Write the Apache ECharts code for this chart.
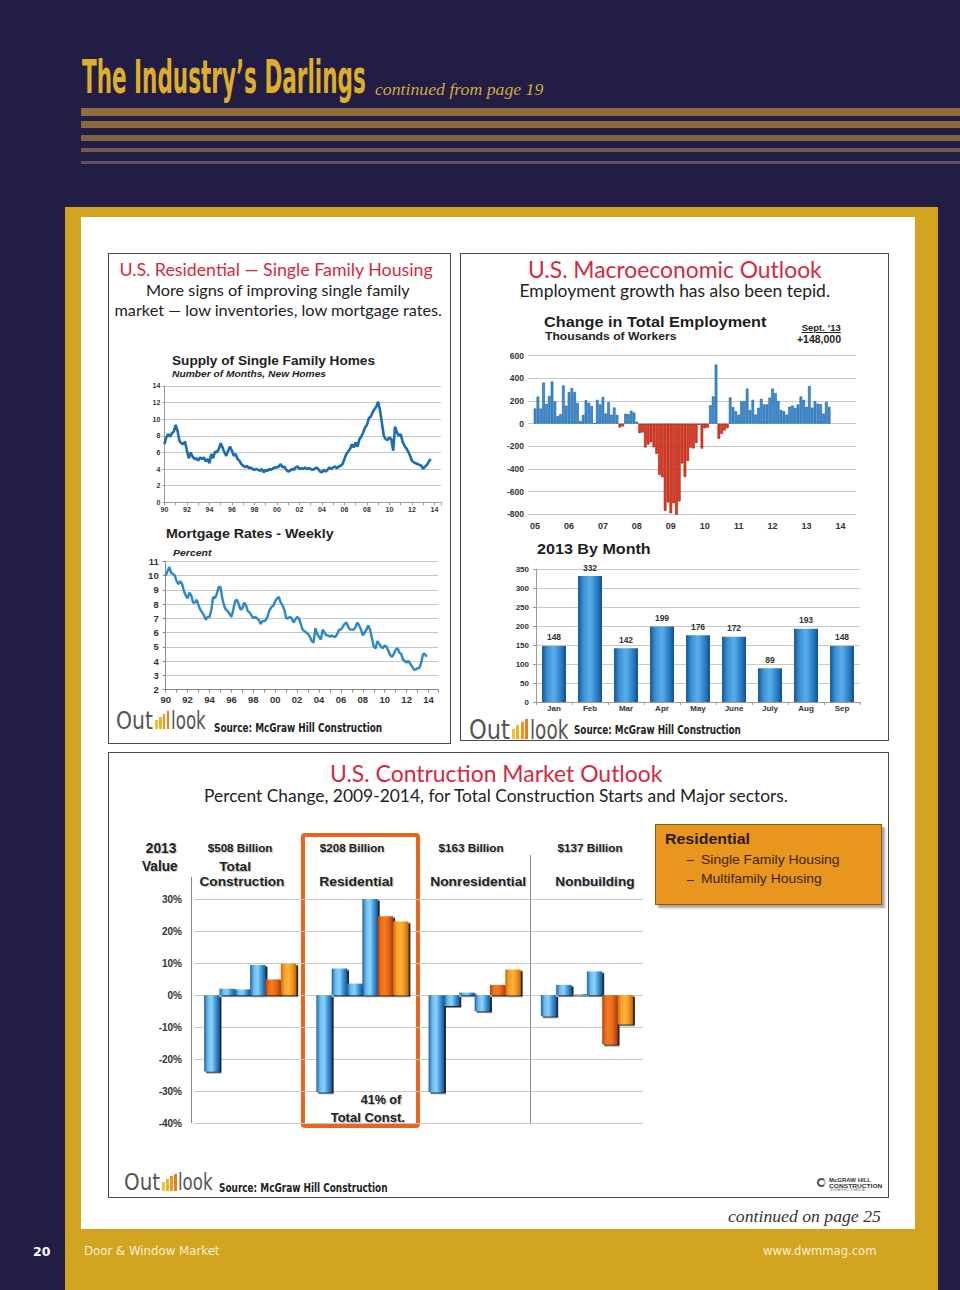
<!DOCTYPE html>
<html><head><meta charset="utf-8">
<script src="https://cdn.jsdelivr.net/npm/echarts@6/dist/echarts.min.js"></script>
<style>
body{margin:0;background:#221d45}
#page{position:relative;width:960px;height:1290px;overflow:hidden;background:#221d45}
.a{position:absolute}
.t{position:absolute;white-space:nowrap;line-height:1;z-index:3}
#chart{position:absolute;left:0;top:0;width:960px;height:1290px;z-index:2}
</style></head>
<body><div id="page">
<div class="a" style="left:81px;top:108px;width:879px;height:8px;background:#8e6c3c"></div>
<div class="a" style="left:81px;top:121px;width:879px;height:7px;background:#8a693a"></div>
<div class="a" style="left:81px;top:135px;width:879px;height:6px;background:#806440"></div>
<div class="a" style="left:81px;top:148px;width:879px;height:4px;background:#705b55"></div>
<div class="a" style="left:81px;top:161px;width:879px;height:2.5px;background:#5c4f63"></div>
<div class="a" style="left:65px;top:207px;width:873px;height:1083px;background:#d2a420"></div>
<div class="a" style="left:81px;top:217px;width:834px;height:1012px;background:#ffffff"></div>
<div class="a" style="left:108px;top:253px;width:343px;height:491px;border:1.5px solid #4a4a4a;box-sizing:border-box"></div>
<div class="a" style="left:460px;top:253px;width:429px;height:488px;border:1.5px solid #4a4a4a;box-sizing:border-box"></div>
<div class="a" style="left:108px;top:752px;width:781px;height:446px;border:1.5px solid #4a4a4a;box-sizing:border-box"></div>
<div class="a" style="left:301px;top:833px;width:119px;height:295px;border:4px solid #e8651c;border-radius:4px;box-sizing:border-box"></div>
<div class="a" style="left:655px;top:824px;width:227px;height:81px;background:#e9961f;border:1px solid #8a5a14;box-sizing:border-box;box-shadow:3px 3px 2px rgba(0,0,0,0.35)"></div>
<div class="a" style="left:190.5px;top:877px;width:1.2px;height:246px;background:#8a8a8a"></div>
<div class="a" style="left:530px;top:855px;width:1.2px;height:268px;background:#8a8a8a"></div>
<div id="chart"></div>
</div>
<script>
// ---------------- DATA ----------------
// Supply of single family homes (months), every 2 months from Jan 1990 to Sep 2013
const supplyValues = [
 7.0,7.8,8.2,7.9,8.3,8.5,  9.3,8.6,7.4,7.1,7.0,7.3,  6.2,5.3,6.0,5.5,5.2,5.3,
 5.0,5.4,5.2,5.4,4.9,5.2,  4.7,5.8,5.3,6.1,6.0,6.4,  7.1,6.6,6.0,5.6,6.2,6.7,
 6.2,5.6,5.8,5.2,5.0,4.6,  4.4,4.2,4.4,4.1,4.2,4.0,  3.9,4.0,3.9,3.8,4.0,3.6,
 3.9,3.8,4.0,3.9,4.1,4.2,  4.2,4.3,4.6,4.2,4.3,3.9,  3.7,3.8,4.0,3.9,4.2,4.3,
 4.0,4.1,4.0,4.2,4.0,4.1,  4.0,3.9,4.0,4.2,4.0,3.7,  3.6,3.9,3.7,3.9,4.2,4.0,
 4.2,4.3,4.1,4.3,4.4,4.6,  5.2,5.8,6.1,6.4,7.0,6.6,  7.2,6.7,7.6,7.9,8.4,9.0,
 9.3,10.1,10.3,10.8,11.2,11.5,  12.1,11.0,9.5,8.0,7.6,7.5,  7.8,7.6,6.2,9.1,8.4,8.0,
 8.2,7.3,6.8,6.5,6.1,5.6,  5.0,4.8,4.7,4.6,4.5,4.4,  4.0,4.3,4.5,4.9,5.2
];
// 30-yr mortgage rate (%), every 2 months from Jan 1990 to Nov 2013
const mortgageValues = [
 10.0,10.3,10.6,10.2,10.1,10.0,  9.6,9.4,9.6,9.4,8.9,8.6,  8.4,8.8,8.6,8.1,8.1,8.3,
 7.9,7.6,7.4,7.2,6.9,7.1,  7.1,7.6,8.5,8.4,8.7,9.2,  9.2,8.4,7.9,7.6,7.5,7.3,
 7.1,7.6,8.2,8.3,8.0,7.6,  7.7,8.1,7.9,7.5,7.4,7.2,  7.0,7.1,7.0,6.9,6.6,6.8,
 6.8,6.9,7.2,7.6,7.8,7.9,  8.2,8.4,8.5,8.1,7.9,7.6,  7.0,7.0,7.1,7.0,6.7,6.9,
 7.1,7.0,6.6,6.2,6.1,6.0,  5.9,5.7,5.4,5.3,6.3,5.9,  5.7,5.5,6.2,6.0,5.8,5.8,
 5.7,5.8,5.7,5.7,5.9,6.2,  6.2,6.4,6.6,6.7,6.4,6.2,  6.2,6.2,6.4,6.7,6.5,6.2,
 5.8,6.0,6.2,6.5,6.2,5.6,  5.0,4.9,5.4,5.2,5.0,4.9,  5.1,5.0,4.7,4.4,4.3,4.5,
 4.8,4.9,4.6,4.5,4.1,4.0,  3.9,4.0,3.8,3.6,3.4,3.4,  3.5,3.5,3.9,4.5,4.5,4.3
];
// Change in total employment (thousands), monthly Jan 2005 - Sep 2013
const employmentValues = [
 134,239,134,363,175,245,373,196,67,84,337,159,
 277,315,280,182,23,77,207,184,157,2,210,171,
 236,90,189,79,143,78,-33,-24,88,84,114,98,
 17,-84,-78,-210,-185,-165,-209,-266,-452,-473,-769,-695,
 -791,-703,-823,-686,-351,-470,-329,-212,-219,-170,-10,-220,
 -40,-35,163,241,522,-133,-90,-60,-40,232,147,109,
 80,200,200,310,120,210,80,140,220,170,170,230,
 310,270,200,120,110,80,150,160,140,170,240,210,
 148,332,142,199,176,172,89,193,148
];
const months2013 = ['Jan','Feb','Mar','Apr','May','June','July','Aug','Sep'];
const jobs2013 = [148,332,142,199,176,172,89,193,148];
const sectors = ['Total Construction','Residential','Nonresidential','Nonbuilding'];
const years = ['2009','2010','2011','2012','2013','2014'];
const change2009 = [-23.8,-30.3,-30.3,-6.6];
const change2010 = [2.0,8.3,-3.4,3.2];
const change2011 = [1.8,3.6,0.8,0.3];
const change2012 = [9.4,30.4,-5.0,7.4];
const change2013 = [4.9,24.6,3.2,-15.4];
const change2014 = [9.8,23.0,8.0,-9.1];

// ---------------- TEXT ----------------
const page = document.getElementById('page');
const ARIAL = '"Liberation Sans", Arial, sans-serif';
const GILL = 'Lato, "Open Sans", sans-serif';
const SERIF = '"Liberation Serif", "DejaVu Serif", serif';
const NARROW = '"Liberation Sans Narrow", "DejaVu Sans Condensed", "Liberation Sans", sans-serif';
const VERD = '"DejaVu Sans", Verdana, sans-serif';
function txt(s, x, y, o) {
  o = o || {};
  const d = document.createElement('div');
  d.className = 't';
  d.textContent = s;
  const st = d.style;
  st.fontFamily = o.f || ARIAL;
  st.fontSize = (o.s || 12) + 'px';
  st.fontWeight = o.b ? 'bold' : 'normal';
  st.fontStyle = o.i ? 'italic' : 'normal';
  st.color = o.c || '#222';
  if (o.lh) st.lineHeight = o.lh;
  if (o.u) st.textDecoration = 'underline';
  if (o.sh) st.textShadow = o.sh;
  st.left = x + 'px'; st.top = y + 'px';
  page.appendChild(d);
  const W = d.offsetWidth, H = d.offsetHeight;
  const sc = o.w ? o.w / W : 1;
  const a = o.a || 'l';
  const off = a === 'l' ? 0 : a === 'c' ? -sc * W / 2 : -sc * W;
  st.transformOrigin = '0 0';
  st.transform = 'translate(' + off + 'px,' + (-H / 2) + 'px) scaleX(' + sc + ')';
  return d;
}
function logo(x, yc, T) {
  const fs = T * 0.27;
  txt('Out', x, yc, {f: VERD, s: fs, c: '#555', w: T * 0.41, lh: 0.66});
  const bx = x + T * 0.43, bw = T * 0.032, gap = T * 0.012;
  const cols = ['#f6c22a', '#f3ae22', '#ee951e', '#e97d1b'];
  for (let i = 0; i < 4; i++) {
    const h = fs * (0.38 + 0.12 * i);
    const b = document.createElement('div');
    b.className = 'a';
    b.style.cssText = 'left:' + (bx + i * (bw + gap)) + 'px;top:' + (yc + fs * 0.346 - h) + 'px;width:' + bw + 'px;height:' + h + 'px;background:' + cols[i] + ';z-index:3';
    page.appendChild(b);
  }
  txt('look', x + T * 0.61, yc, {f: VERD, s: fs, c: '#555', w: T * 0.39, lh: 0.66});
}
// header / footer
txt('The Industry\u2019s Darlings', 82, 77, {f: NARROW, s: 46, b: 1, c: '#dcae2b', w: 284});
txt('continued from page 19', 375, 89, {f: SERIF, s: 17, i: 1, c: '#d1aa3b', w: 168});
txt('20', 41.5, 1251.5, {f: VERD, s: 12.5, b: 1, c: '#ffffff', a: 'c'});
txt('Door & Window Market', 84, 1251.5, {f: VERD, s: 11.5, c: '#fbf1d4', w: 135});
txt('www.dwmmag.com', 877, 1251.5, {f: VERD, s: 11.5, c: '#fbf1d4', a: 'r', w: 114});
txt('continued on page 25', 880.5, 1215.5, {f: SERIF, s: 17, i: 1, c: '#333', a: 'r', w: 153});
// panel 1
txt('U.S. Residential \u2014 Single Family Housing', 276.3, 269.5, {f: GILL, s: 17.5, c: '#d22a3e', a: 'c', w: 313});
txt('More signs of improving single family', 277.8, 290, {f: GILL, s: 16, c: '#222', a: 'c', w: 264});
txt('market \u2014 low inventories, low mortgage rates.', 278.3, 310, {f: GILL, s: 16, c: '#222', a: 'c', w: 327});
txt('Supply of Single Family Homes', 171.8, 360.7, {s: 13.5, b: 1, c: '#1e1e1e', w: 203});
txt('Number of Months, New Homes', 172.4, 374, {s: 9.5, b: 1, i: 1, c: '#1e1e1e', w: 154});
txt('Mortgage Rates - Weekly', 165.7, 534, {s: 13.5, b: 1, c: '#1e1e1e', w: 168});
txt('Percent', 173.4, 552.6, {s: 9.5, b: 1, i: 1, c: '#1e1e1e', w: 38.6});
logo(116, 721, 90);
txt('Source: McGraw Hill Construction', 213.7, 728, {f: NARROW, s: 12, b: 1, c: '#222', w: 168});
// panel 2
txt('U.S. Macroeconomic Outlook', 675, 269, {f: GILL, s: 23, c: '#d22a3e', a: 'c', w: 294});
txt('Employment growth has also been tepid.', 674.5, 291, {f: GILL, s: 16.5, c: '#222', a: 'c', w: 311});
txt('Change in Total Employment', 544, 321.7, {s: 15.5, b: 1, c: '#1e1e1e', w: 222});
txt('Thousands of Workers', 545, 337.3, {s: 11.5, b: 1, c: '#1e1e1e', w: 131});
txt('Sept. \u201913', 801.7, 328.3, {s: 9.5, b: 1, c: '#1e1e1e', u: 1, w: 39});
txt('+148,000', 796.7, 340, {s: 10, b: 1, c: '#1e1e1e', w: 44});
txt('2013 By Month', 537.3, 549, {s: 15.5, b: 1, c: '#1e1e1e', w: 113.3});
logo(469.3, 729.5, 99);
txt('Source: McGraw Hill Construction', 574.3, 730, {f: NARROW, s: 12, b: 1, c: '#222', w: 166.7});
// panel 3
txt('U.S. Contruction Market Outlook', 495.7, 772.7, {f: GILL, s: 23, c: '#d22a3e', a: 'c', w: 332});
txt('Percent Change, 2009-2014, for Total Construction Starts and Major sectors.', 495.7, 794.8, {f: GILL, s: 17, c: '#222', a: 'c', w: 584});
const SH = '1px 1px 1px rgba(0,0,0,0.25)';
txt('2013', 160.5, 847.7, {s: 14, b: 1, c: '#222', a: 'c', w: 30.3, sh: SH});
txt('Value', 160, 865.7, {s: 14, b: 1, c: '#222', a: 'c', w: 36, sh: SH});
txt('$508 Billion', 239.7, 848.3, {s: 11, b: 1, c: '#222', a: 'c', w: 64.7, sh: SH});
txt('Total', 234.8, 865.7, {s: 13, b: 1, c: '#222', a: 'c', w: 31.7, sh: SH});
txt('Construction', 242.2, 881, {s: 13, b: 1, c: '#222', a: 'c', w: 85, sh: SH});
txt('$208 Billion', 351.8, 848.3, {s: 11, b: 1, c: '#222', a: 'c', w: 64.3, sh: SH});
txt('Residential', 355.5, 881, {s: 13, b: 1, c: '#222', a: 'c', w: 73.7, sh: SH});
txt('$163 Billion', 470.8, 848.3, {s: 11, b: 1, c: '#222', a: 'c', w: 65, sh: SH});
txt('Nonresidential', 477.8, 881, {s: 13, b: 1, c: '#222', a: 'c', w: 95.7, sh: SH});
txt('$137 Billion', 589.8, 848.3, {s: 11, b: 1, c: '#222', a: 'c', w: 65, sh: SH});
txt('Nonbuilding', 595.3, 881, {s: 13, b: 1, c: '#222', a: 'c', w: 79.3, sh: SH});
txt('41% of', 381, 1099, {s: 13, b: 1, c: '#222', a: 'c', w: 40.7, sh: SH});
txt('Total Const.', 367.7, 1116.7, {s: 13, b: 1, c: '#222', a: 'c', w: 74, sh: SH});
txt('Residential', 665, 837.7, {s: 15, b: 1, c: '#2a1a08', w: 85});
txt('\u2013', 686.7, 859, {s: 13, c: '#3a2408'});
txt('Single Family Housing', 701, 860, {s: 13.5, c: '#3a2408', w: 138.3});
txt('\u2013', 686.7, 879, {s: 13, c: '#3a2408'});
txt('Multifamily Housing', 701, 879.3, {s: 13.5, c: '#3a2408', w: 120.7});
logo(124.3, 1183, 88);
txt('Source: McGraw Hill Construction', 218.6, 1188, {f: NARROW, s: 12, b: 1, c: '#222', w: 168.4});
(function(){
  const c = document.createElement('div');
  c.className = 'a';
  c.style.cssText = 'left:817px;top:1178px;width:9px;height:9px;border-radius:50%;border:2px solid #555;border-right-color:#bbb;box-sizing:border-box;z-index:3';
  page.appendChild(c);
})();
txt('McGRAW HILL', 829, 1179.5, {s: 6, b: 1, c: '#333', w: 42});
txt('CONSTRUCTION', 829, 1185.5, {s: 6, b: 1, c: '#333', w: 53});
txt('McGRAW HILL FINANCIAL', 830, 1191.3, {s: 3.5, c: '#777', w: 36});

// ---------------- CHARTS ----------------
const supplyData = supplyValues.map((v, i) => [1990 + i / 6, v]);
const mortgageData = mortgageValues.map((v, i) => [1990 + i / 6, v]);
const empCats = [];
for (let y = 2004, m = 11; !(y === 2014 && m === 7);) {
  empCats.push(y + '-' + String(m).padStart(2, '0'));
  m++; if (m > 12) { m = 1; y++; }
}
const empData = empCats.map((c, i) => {
  const k = i - 2;
  if (k < 0 || k >= employmentValues.length) return '-';
  const v = employmentValues[k];
  return {value: v, itemStyle: v >= 0 ? {color: '#3e90d8', borderColor: '#1d5c9b', borderWidth: 0.6} : {color: '#ee3a1f', borderColor: '#961a0b', borderWidth: 0.6}};
});
const lbl = (size, extra) => Object.assign({fontFamily: ARIAL, fontWeight: 'bold', fontSize: size, color: '#333'}, extra || {});
const yr = v => (Math.abs(v - Math.round(v)) > 1e-6) ? '' : String(Math.round(v) % 100).padStart(2, '0');
const gray = {lineStyle: {color: '#9a9a9a', width: 1}};
const split = {show: true, lineStyle: {color: '#c8c8c8', width: 1}};
function grad(stops) {
  return new echarts.graphic.LinearGradient(0, 0, 1, 0, stops.map((c, i) => ({offset: i / (stops.length - 1), color: c})));
}
const blueG = grad(['#1a64a8', '#6cbdf0', '#8fd0f7', '#3a96dc', '#1a5a98']);
const red13 = grad(['#b8400a', '#f0741e', '#f27a22', '#e2601a', '#a83a08']);
const org14 = grad(['#d06a0e', '#f7a42a', '#fbb436', '#f2941f', '#c8640c']);
const monthG = grad(['#175896', '#3f95d8', '#5aaee8', '#2f86cf', '#174f8c']);
const shadow = {shadowColor: 'rgba(0,0,0,0.85)', shadowBlur: 0, shadowOffsetX: 2, shadowOffsetY: 1.5};
const changeSeries = [change2009, change2010, change2011, change2012, change2013, change2014];
const changeColors = [blueG, blueG, blueG, blueG, red13, org14];

const chart = echarts.init(document.getElementById('chart'), null, {renderer: 'svg'});
chart.setOption({
  animation: false,
  textStyle: {fontFamily: ARIAL},
  grid: [
    {left: 164.4, top: 385.9, width: 276.8, height: 116.4},
    {left: 165.7, top: 561.3, width: 272.7, height: 128.2},
    {left: 528, top: 355.7, width: 328, height: 158.6},
    {left: 536, top: 569.3, width: 324, height: 132.7},
    {left: 194, top: 899, width: 449, height: 224.3}
  ],
  xAxis: [
    {gridIndex: 0, type: 'value', min: 1990, max: 2014.6, interval: 2,
     axisLabel: lbl(7, {margin: 4, formatter: yr}), axisLine: Object.assign({show: true}, gray),
     axisTick: Object.assign({show: true, length: 3}, gray),
     minorTick: Object.assign({show: true, splitNumber: 2, length: 3}, gray), splitLine: {show: false}},
    {gridIndex: 1, type: 'value', min: 1990, max: 2014.9, interval: 2,
     axisLabel: lbl(9.5, {margin: 5, formatter: yr}), axisLine: {show: true, lineStyle: {color: '#888'}},
     axisTick: {show: true, length: 3, lineStyle: {color: '#888'}},
     minorTick: {show: true, splitNumber: 2, length: 3, lineStyle: {color: '#888'}}, splitLine: {show: false}},
    {gridIndex: 2, type: 'category', data: empCats, boundaryGap: true,
     axisLabel: lbl(9, {margin: 7, interval: (i, v) => v.slice(5) === '01', formatter: v => v.slice(2, 4)}),
     axisLine: {show: false}, axisTick: {show: false}, splitLine: {show: false}},
    {gridIndex: 3, type: 'category', data: months2013,
     axisLabel: lbl(8, {margin: 2, lineHeight: 8}), axisLine: Object.assign({show: true}, gray),
     axisTick: Object.assign({show: true, length: 3}, gray), splitLine: {show: false}},
    {gridIndex: 4, type: 'category', data: sectors,
     axisLabel: {show: false}, axisLine: {show: false}, axisTick: {show: false}, splitLine: {show: false}}
  ],
  yAxis: [
    {gridIndex: 0, type: 'value', min: 0, max: 14, interval: 2,
     axisLabel: lbl(7, {margin: 4}), axisLine: Object.assign({show: true}, gray),
     axisTick: Object.assign({show: true, length: 2}, gray), splitLine: split},
    {gridIndex: 1, type: 'value', min: 2, max: 11, interval: 1,
     axisLabel: lbl(9.5, {margin: 7}), axisLine: {show: true, lineStyle: {color: '#888'}},
     axisTick: {show: true, length: 3, lineStyle: {color: '#888'}}, splitLine: split},
    {gridIndex: 2, type: 'value', min: -800, max: 600, interval: 200,
     axisLabel: lbl(8.5, {margin: 4}), axisLine: {show: false}, axisTick: {show: false}, splitLine: split},
    {gridIndex: 3, type: 'value', min: 0, max: 350, interval: 50,
     axisLabel: lbl(8, {margin: 7}), axisLine: Object.assign({show: true}, gray),
     axisTick: Object.assign({show: true, length: 3}, gray), splitLine: split},
    {gridIndex: 4, type: 'value', min: -40, max: 30, interval: 10, offset: 3,
     axisLabel: lbl(10, {margin: 9, formatter: '{value}%'}), axisLine: {show: false}, axisTick: {show: false},
     splitLine: split}
  ],
  series: [
    {type: 'line', name: 'Supply', xAxisIndex: 0, yAxisIndex: 0, data: supplyData, showSymbol: false,
     lineStyle: {color: '#1b6cb4', width: 2.6}, z: 5},
    {type: 'line', name: 'Mortgage', xAxisIndex: 1, yAxisIndex: 1, data: mortgageData, showSymbol: false,
     lineStyle: {color: '#2a87ca', width: 2.4}, z: 5},
    {type: 'bar', name: 'Employment', xAxisIndex: 2, yAxisIndex: 2, data: empData, barCategoryGap: '6%'},
    {type: 'bar', name: '2013', xAxisIndex: 3, yAxisIndex: 3, data: jobs2013, barWidth: 24,
     itemStyle: {color: monthG},
     label: {show: true, position: 'top', distance: 4, fontFamily: ARIAL, fontWeight: 'bold', fontSize: 8.5, color: '#333'}}
  ].concat(changeSeries.map((arr, i) => ({
    type: 'bar', name: years[i], xAxisIndex: 4, yAxisIndex: 4, data: arr,
    barGap: '0%', barCategoryGap: '18%',
    itemStyle: Object.assign({color: changeColors[i]}, shadow)
  })))
});
</script>
</body></html>
